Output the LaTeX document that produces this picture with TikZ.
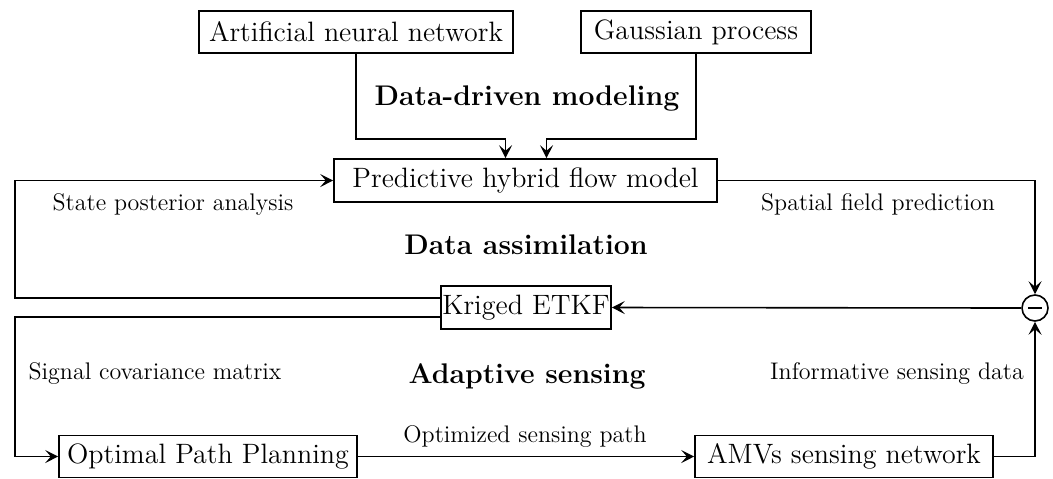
\documentclass[tikz,border=0pt]{standalone}
\usetikzlibrary{arrows.meta}

\begin{document}
\begin{tikzpicture}[x=0.5pt,y=-0.5pt,
  box/.style={draw,line width=0.8pt,inner sep=0pt,font=\fontsize{14}{16}\selectfont},
  lbl/.style={font=\fontsize{12}{14}\selectfont},
  ttl/.style={font=\fontsize{14.2}{16}\selectfont\bfseries},
  flow/.style={-{Stealth[length=6.5pt,width=6.5pt,inset=2.8pt]},line width=0.8pt}]
  \useasboundingbox (0,0) rectangle (1053,478);
  % boxes
  \node[box,minimum width=157pt,minimum height=21pt] (ann) at (356,32) {Artificial neural network};
  \node[box,minimum width=115pt,minimum height=21pt] (gp) at (696,32) {Gaussian process};
  \node[box,minimum width=191.5pt,minimum height=21.5pt] (model) at (525.5,180.5) {Predictive hybrid flow model};
  \node[box,minimum width=85pt,minimum height=21.5pt] (etkf) at (526,307.5) {Kriged ETKF};
  \node[box,minimum width=149pt,minimum height=21pt] (opp) at (208,456.5) {Optimal Path Planning};
  \node[box,minimum width=149pt,minimum height=21pt] (amv) at (844,456.5) {AMVs sensing network};
  \node[draw,circle,line width=0.8pt,minimum size=13pt,inner sep=0pt] (minus) at (1035,308) {};
  \draw[line width=1.4pt] ([xshift=-3.5pt]minus.center) -- ([xshift=3.5pt]minus.center);
  % titles and labels
  \node[ttl] (tdd) at (527,98) {Data-driven modeling};
  \node[ttl] (tda) at (526,245) {Data assimilation};
  \node[ttl] (tas) at (527,376) {Adaptive sensing};
  \node[lbl] (lspa) at (173,204) {State posterior analysis};
  \node[lbl] (lsfp) at (878,204) {Spatial field prediction};
  \node[lbl] (lscm) at (155,373) {Signal covariance matrix};
  \node[lbl] (lisd) at (897,373) {Informative sensing data};
  \node[lbl] (losp) at (525,436) {Optimized sensing path};
  % connectors
  \draw[flow] (ann.south) -- ++(0,85) -| ([xshift=-10pt]model.north);
  \draw[flow] (gp.south) -- ++(0,85) -| ([xshift=10.5pt]model.north);
  \draw[flow] ([yshift=4.75pt]etkf.west) -- (15,298) |- (model.west);
  \draw[flow] ([yshift=-4.75pt]etkf.west) -- (15,317) |- (opp.west);
  \draw[flow] (model.east) -| (minus.north);
  \draw[flow] (minus.west) -- (etkf.east);
  \draw[flow] (opp.east) -- (amv.west);
  \draw[flow] (amv.east) -| (minus.south);
\end{tikzpicture}
\end{document}
